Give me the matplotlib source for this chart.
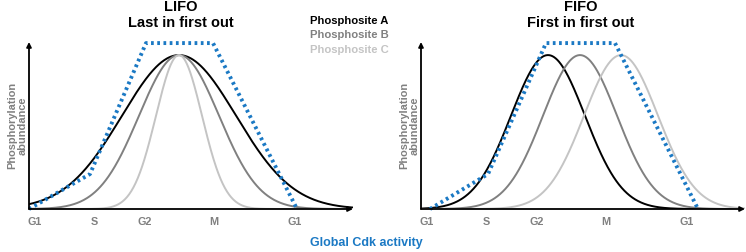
import numpy as np
import matplotlib
matplotlib.use("Agg")
import matplotlib.pyplot as plt

plt.rcParams["font.family"] = ["Liberation Sans", "DejaVu Sans"]
plt.rcParams["font.weight"] = "bold"

# cell-cycle phase ticks (same for both panels)
PHASES = ["G1", "S", "G2", "M", "G1"]
PHASE_POS = [6, 65, 116, 185, 266]

SITES = ["Phosphosite A", "Phosphosite B", "Phosphosite C"]
SITE_COLORS = ["#000000", "#808080", "#c4c4c4"]
CDK_COLOR = "#1b79c4"
GREY = "#808080"

# LIFO: all sites peak together, widths differ
LIFO_CENTERS = [150, 150, 150]
LIFO_WIDTHS = [57, 40, 23]
LIFO_CDK_X = [0, 61, 117, 184, 268]
LIFO_CDK_Y = [0, 0.227, 1.078, 1.078, 0]

# FIFO: same width, shifted peaks
FIFO_CENTERS = [127, 159, 200]
FIFO_WIDTHS = [37, 37, 37]
FIFO_CDK_X = [9, 67, 125, 194, 277]
FIFO_CDK_Y = [0, 0.227, 1.078, 1.078, 0]

fig = plt.figure(figsize=(7.46, 2.52), dpi=100)


def panel(rect, short, long, cx, centers, widths, cdk_x, cdk_y):
    ax = fig.add_axes(rect)
    ax.set_xlim(0, 324)
    ax.set_ylim(0, 1.085)
    x = np.linspace(0, 324, 600)
    for c, w, col in zip(centers, widths, SITE_COLORS):
        ax.plot(x, np.exp(-0.5 * ((x - c) / w) ** 2), color=col, lw=1.4, zorder=2)
    ax.plot(cdk_x, cdk_y, color=CDK_COLOR, lw=2.8, ls=(0, (0.7, 0.9)),
            clip_on=False, zorder=3)
    for s in ax.spines.values():
        s.set_visible(False)
    ax.set_yticks([])
    ax.set_xticks(PHASE_POS)
    ax.set_xticklabels(PHASES, color=GREY, fontsize=7.8, fontweight="bold")
    ax.tick_params(axis="x", length=0, pad=6)
    arrow = dict(arrowstyle="-|>", lw=1.3, color="black", mutation_scale=7,
                 shrinkA=0, shrinkB=0)
    ax.annotate("", xy=(1, 0), xytext=(0, 0), xycoords="axes fraction",
                arrowprops=arrow)
    ax.annotate("", xy=(0, 1), xytext=(0, 0), xycoords="axes fraction",
                arrowprops=arrow)
    ax.set_ylabel("Phosphorylation\nabundance", color=GREY, fontsize=7.9,
                  fontweight="bold", labelpad=1, linespacing=1.1)
    fig.text(cx / 746, 1 - 7 / 252, short, ha="center", va="center",
             fontsize=10.5, fontweight="bold")
    fig.text(cx / 746, 1 - 23 / 252, long, ha="center", va="center",
             fontsize=10.5, fontweight="bold")
    return ax


axL = panel([29 / 746, 43 / 252, 324 / 746, 167 / 252], "LIFO", "Last in first out",
            181, LIFO_CENTERS, LIFO_WIDTHS, LIFO_CDK_X, LIFO_CDK_Y)
axR = panel([421 / 746, 43 / 252, 324 / 746, 167 / 252], "FIFO", "First in first out",
            581, FIFO_CENTERS, FIFO_WIDTHS, FIFO_CDK_X, FIFO_CDK_Y)

for i, (name, col) in enumerate(zip(SITES, SITE_COLORS)):
    fig.text(310 / 746, 1 - (21 + 14.5 * i) / 252, name, color=col, fontsize=8.1,
             fontweight="bold", ha="left", va="center")

fig.text(366 / 746, 1 - 243 / 252, "Global Cdk activity", color=CDK_COLOR,
         fontsize=9, fontweight="bold", ha="center", va="center")

fig.savefig("out.png", dpi=100)
